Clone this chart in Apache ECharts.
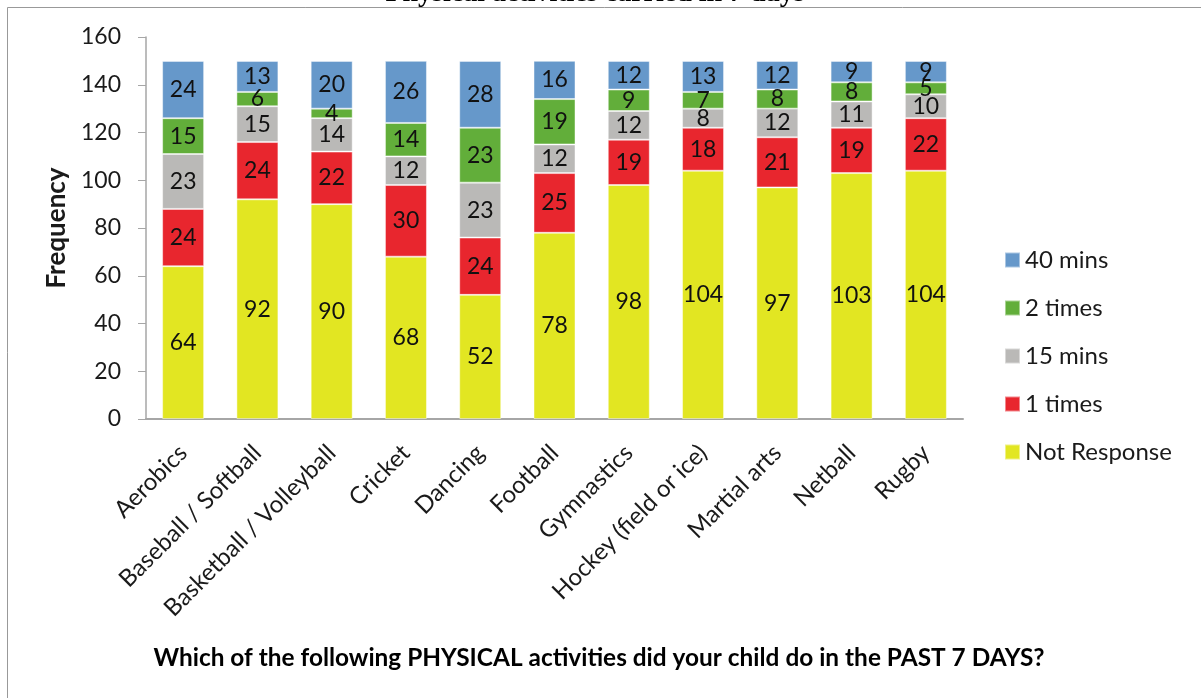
<!DOCTYPE html>
<html>
<head>
<meta charset="utf-8">
<script src="https://cdn.jsdelivr.net/npm/echarts@6/dist/echarts.min.js"></script>
<style>
html,body{margin:0;padding:0;background:#fff;}
#chart{width:1201px;height:698px;}
</style>
</head>
<body>
<div id="chart"></div>
<script>
const categories = ['Aerobics','Baseball / Softball','Basketball / Volleyball','Cricket','Dancing','Football','Gymnastics','Hockey (field or ice)','Martial arts','Netball','Rugby'];
const notResponse = [64, 92, 90, 68, 52, 78, 98, 104, 97, 103, 104];
const oneTimes    = [24, 24, 22, 30, 24, 25, 19, 18, 21, 19, 22];
const fifteenMins = [23, 15, 14, 12, 23, 12, 12, 8, 12, 11, 10];
const twoTimes    = [15, 6, 4, 14, 23, 19, 9, 7, 8, 8, 5];
const fortyMins   = [24, 13, 20, 26, 28, 16, 12, 13, 12, 9, 9];
const seriesNames = ['Not Response','1 times','15 mins','2 times','40 mins'];
const legendOrder = ['40 mins','2 times','15 mins','1 times','Not Response'];
const yTicks = {min: 0, max: 160, interval: 20};
const titleText = 'Physical activities carried in 7 days';
const xTitle = 'Which of the following PHYSICAL activities did your child do in the PAST 7 DAYS?';
const yTitle = 'Frequency';

const colors = ['#E2E622','#E8262E','#BAB9B7','#62AE3A','#6698CA'];
const values = [notResponse, oneTimes, fifteenMins, twoTimes, fortyMins];
const FONT = 'Lato';

const chart = echarts.init(document.getElementById('chart'));
chart.setOption({
  animation: false,
  backgroundColor: '#ffffff',
  textStyle: {fontFamily: FONT},
  grid: {left: 146, right: 238, top: 37, bottom: 279, containLabel: false},
  legend: {
    data: legendOrder,
    orient: 'vertical',
    left: 999,
    top: 243,
    itemWidth: 15,
    itemHeight: 15,
    itemGap: 24,
    icon: 'rect',
    textStyle: {fontFamily: FONT, fontSize: 24, color: '#1a1a1a'}
  },
  xAxis: {
    type: 'category',
    data: categories,
    axisLine: {lineStyle: {color: '#a6a6a6', width: 2}},
    axisTick: {show: false},
    axisLabel: {rotate: 45, margin: 30, fontFamily: FONT, fontSize: 24, color: '#1a1a1a', interval: 0}
  },
  yAxis: {
    type: 'value',
    min: yTicks.min, max: yTicks.max, interval: yTicks.interval,
    name: yTitle,
    nameLocation: 'middle',
    nameGap: 72,
    nameTextStyle: {fontFamily: FONT, fontSize: 26, fontWeight: 'bold', color: '#1a1a1a'},
    axisLine: {show: true, lineStyle: {color: '#a6a6a6', width: 1.5}},
    axisTick: {show: true, length: 8, lineStyle: {color: '#a6a6a6'}},
    splitLine: {show: false},
    axisLabel: {margin: 25, fontFamily: FONT, fontSize: 23, color: '#1a1a1a'}
  },
  series: seriesNames.map((n, i) => ({
    name: n,
    type: 'bar',
    stack: 'total',
    barWidth: 42,
    data: values[i],
    itemStyle: {color: colors[i], borderColor: 'rgba(255,255,255,0.45)', borderWidth: 1},
    label: {show: true, position: 'inside', fontFamily: FONT, fontSize: 23, color: '#111'}
  })),
  graphic: [
    {type: 'line', shape: {x1: 7.5, y1: 7.5, x2: 7.5, y2: 698}, style: {stroke: '#999', lineWidth: 1}},
    {type: 'line', shape: {x1: 7.5, y1: 7.5, x2: 1201, y2: 7.5}, style: {stroke: '#999', lineWidth: 1}},
    {type: 'text', x: 595, y: -6, style: {text: titleText, font: 'bold 28px "Liberation Serif"', fill: '#000', align: 'center', verticalAlign: 'middle'}},
    {type: 'text', x: 599, y: 658, style: {text: xTitle, font: 'bold 24.4px Lato', fill: '#000', align: 'center', verticalAlign: 'middle'}}
  ]
});
</script>
</body>
</html>
